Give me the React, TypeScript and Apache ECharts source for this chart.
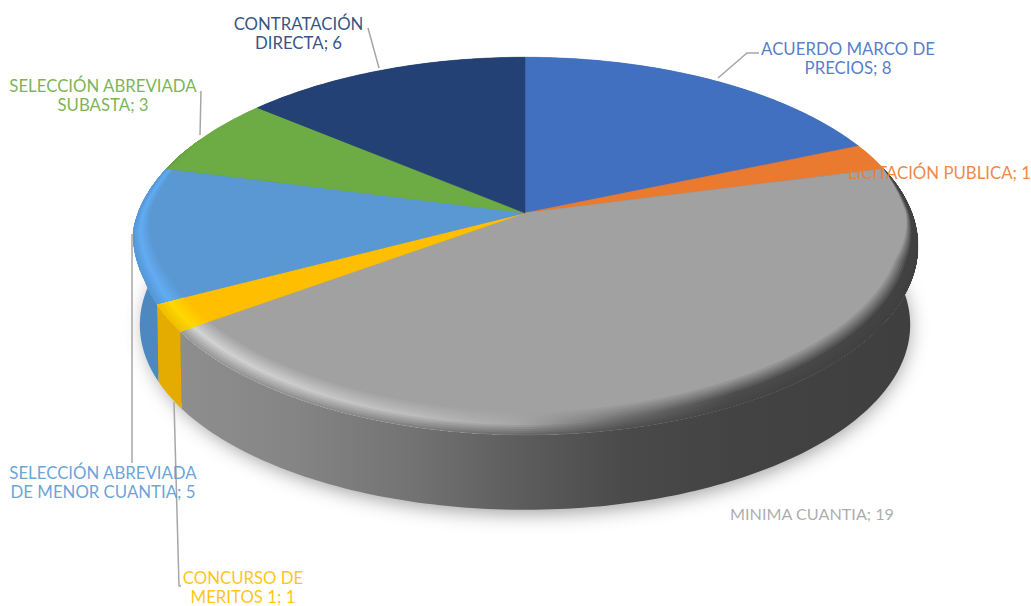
import React, { useEffect, useRef } from "react";
import * as echarts from "echarts";

const categories = [
  "ACUERDO MARCO DE\nPRECIOS",
  "LICITACIÓN PUBLICA",
  "MINIMA CUANTIA",
  "CONCURSO DE\nMERITOS 1",
  "SELECCIÓN ABREVIADA\nDE MENOR CUANTIA",
  "SELECCIÓN ABREVIADA\nSUBASTA",
  "CONTRATACIÓN\nDIRECTA",
];
const values = [8, 1, 19, 1, 5, 3, 6];
const faceColors = ["#4170C0", "#EA7A2F", "#A1A1A1", "#FFBF00", "#5A98D4", "#6DAB44", "#234175"];
const labelColors = ["#4472C4", "#ED7D31", "#A5A5A5", "#FFC000", "#5B9BD5", "#70AD47", "#264478"];
const wallColors = ["#3A64AC", "#C96A28", "", "#E4AC00", "#4E88C0", "#5F963B", "#1E3865"];
const bevelColors = ["#4170C0", "#EA7A2F", "", "#FFD800", "#62ACF2", "#6DAB44", "#234175"];
const labelAnchors: [number, number, string][] = [
  [848, 48, "center"],
  [1031, 172, "right"],
  [894, 513, "right"],
  [243, 577, "center"],
  [103, 472.5, "center"],
  [103, 85, "center"],
  [298.5, 23, "center"],
];
const labelSizes = [16.8, 16.8, 16.2, 16.8, 16.8, 16.8, 16.8];
const leaderLines: number[][][] = [
  [[718, 78], [747, 53], [759, 53]],
  [],
  [],
  [[174, 402], [179, 586], [181, 586]],
  [[132, 234], [132, 463]],
  [[201, 91], [200, 135]],
  [[368, 28], [379, 68]],
];

const CX = 525, CY = 213, A = 387, B = 183, K = 0.1746;
const DEPTH = 79.5, SHRINK = 0.98;
const LINE_HEIGHT = 19;
const total = values.reduce((s, v) => s + v, 0);

function raw(r: number, deg: number): number[] {
  const t = (deg * Math.PI) / 180;
  const x = r * Math.sin(t), y = -r * Math.cos(t);
  const d = 1 - K * y;
  return [CX + (A * x) / d, CY + (B * y) / d, x, y];
}
function top(r: number, deg: number): number[] {
  const p = raw(r, deg);
  // the front-left of the rim sits slightly inside the pure ellipse
  const inset = p[2] < 0 && p[3] > 0.1 ? 0.016 * Math.min(1, (p[3] - 0.1) / 0.25) : 0;
  return [CX + (p[0] - CX) * (1 - inset), p[1]];
}
function base(deg: number): number[] {
  const p = raw(1, deg);
  return [CX + (p[0] - CX) * SHRINK, CY + (p[1] - CY) * SHRINK + DEPTH];
}
function range(i: number): [number, number] {
  let s = 0;
  for (let k = 0; k < i; k++) s += values[k];
  return [(s / total) * 360, ((s + values[i]) / total) * 360];
}
function arc(a: number, b: number, f: (d: number) => number[]): number[][] {
  const out: number[][] = [];
  const n = Math.max(2, Math.ceil(Math.abs(b - a)));
  for (let j = 0; j <= n; j++) out.push(f(a + ((b - a) * j) / n));
  return out;
}
function hex(c: string): number[] {
  return [1, 3, 5].map((i) => parseInt(c.slice(i, i + 2), 16));
}
function toHex(v: number[]): string {
  return "#" + v.map((x) => Math.round(x).toString(16).padStart(2, "0")).join("");
}
function mix(a: string, b: string, t: number): string {
  const p = hex(a), q = hex(b);
  return toHex(p.map((v, i) => v + (q[i] - v) * t));
}
function taper(d: number): number {
  if (d < 75 || d > 295) return 0;
  if (d < 105) return (d - 75) / 30;
  if (d > 268) return (295 - d) / 27;
  return 1;
}
function bevelWidth(d: number): number {
  const t = (d * Math.PI) / 180;
  return taper(d) * (0.032 * Math.abs(Math.sin(t)) + 0.085 * Math.abs(Math.cos(t)));
}
const gradOffsets = [0, 0.15, 0.32, 0.45, 0.6, 0.75, 1];
const grayWall = ["#8E8E8E", "#858585", "#727272", "#5E5E5E", "#4A4A4A", "#434343", "#3F3F3F"];
const grayBevel = ["#D4D4D4", "#CCCCCC", "#BCBCBC", "#A8A8A8", "#6E6E6E", "#4C4C4C", "#404040"];
function grad(f: (k: number) => string) {
  return new echarts.graphic.LinearGradient(
    180, 0, 920, 0,
    gradOffsets.map((offset, k) => ({ offset, color: f(k) })),
    true
  );
}

function renderShadow() {
  const pts = arc(0, 360, (d) => {
    const p = base(d);
    return [CX + (p[0] - CX) * 0.99, p[1] - 2];
  });
  return {
    type: "polygon",
    shape: { points: pts },
    style: { fill: "#808080", shadowBlur: 20, shadowColor: "rgba(0,0,0,0.4)", shadowOffsetX: 2, shadowOffsetY: 5 },
  };
}
function renderWall(params: any) {
  const i = params.dataIndex;
  const [a, b] = range(i);
  const pts = [...arc(a, b, (d) => top(1, d)), ...arc(b, a, base)];
  const fill = wallColors[i] ? wallColors[i] : grad((k) => grayWall[k]);
  return { type: "polygon", shape: { points: pts }, style: { fill } };
}
function renderFace(params: any) {
  const i = params.dataIndex;
  const [a, b] = range(i);
  const pts = [[CX, CY], ...arc(a, b, (d) => top(1, d))];
  return { type: "polygon", shape: { points: pts }, style: { fill: faceColors[i], stroke: faceColors[i], lineWidth: 0.5 } };
}
const BANDS = 12, PEAK = 7;
function renderBevel(params: any) {
  const i = params.dataIndex;
  const [a, b] = range(i);
  const children: any[] = [];
  if (bevelWidth((a + b) / 2) + bevelWidth(a) + bevelWidth(b) === 0) return { type: "group", children };
  for (let n = 0; n < BANDS; n++) {
    const up = Math.min(1, (n + 1) / PEAK);
    const down = n < PEAK ? 0 : (n - PEAK + 1) / (BANDS - PEAK);
    const pts = [
      ...arc(a, b, (d) => top(1 - bevelWidth(d) * (1 - n / BANDS), d)),
      ...arc(b, a, (d) => top(1, d)),
    ];
    const fill = bevelColors[i]
      ? mix(mix(faceColors[i], bevelColors[i], up), wallColors[i], down * 0.55)
      : grad((k) => mix(mix(faceColors[i], grayBevel[k], up), grayWall[k], down * 0.8));
    children.push({ type: "polygon", shape: { points: pts }, style: { fill } });
  }
  return { type: "group", children };
}

const FONT = "Lato, 'Open Sans', sans-serif";

export default function App() {
  const ref = useRef<HTMLDivElement>(null);
  useEffect(() => {
    document.body.style.margin = "0";
    const chart = echarts.init(ref.current!, undefined, { renderer: "svg" });
    const common = { coordinateSystem: "none", silent: true, animation: false };
    const textEls = categories.map((c, i) => {
      const multi = c.includes("\n");
      return {
        type: "text",
        x: labelAnchors[i][0],
        // multi-line blocks are anchored by their first line
        y: multi ? labelAnchors[i][1] - LINE_HEIGHT / 2 : labelAnchors[i][1],
        z: 20,
        style: {
          text: `${c}; ${values[i]}`,
          fill: labelColors[i],
          font: `400 ${labelSizes[i]}px ${FONT}`,
          opacity: 0.92,
          align: labelAnchors[i][2],
          verticalAlign: multi ? "top" : "middle",
          lineHeight: LINE_HEIGHT,
        },
      };
    });
    const lineEls = leaderLines
      .filter((l) => l.length)
      .map((l) => ({
        type: "polyline",
        z: 15,
        shape: { points: l },
        style: { stroke: "#A6A6A6", lineWidth: 1.5, fill: "none" },
      }));
    chart.setOption({
      animation: false,
      backgroundColor: "#ffffff",
      graphic: { elements: [...lineEls, ...textEls] },
      series: [
        { ...common, type: "custom", z: 2, data: [total], renderItem: renderShadow },
        { ...common, type: "custom", z: 3, data: values, renderItem: renderWall },
        { ...common, type: "custom", z: 4, data: values, renderItem: renderFace },
        { ...common, type: "custom", z: 5, data: values, renderItem: renderBevel },
      ],
    });
    return () => chart.dispose();
  }, []);
  return <div ref={ref} style={{ position: "absolute", left: 0, top: 0, width: 1031, height: 606 }} />;
}
